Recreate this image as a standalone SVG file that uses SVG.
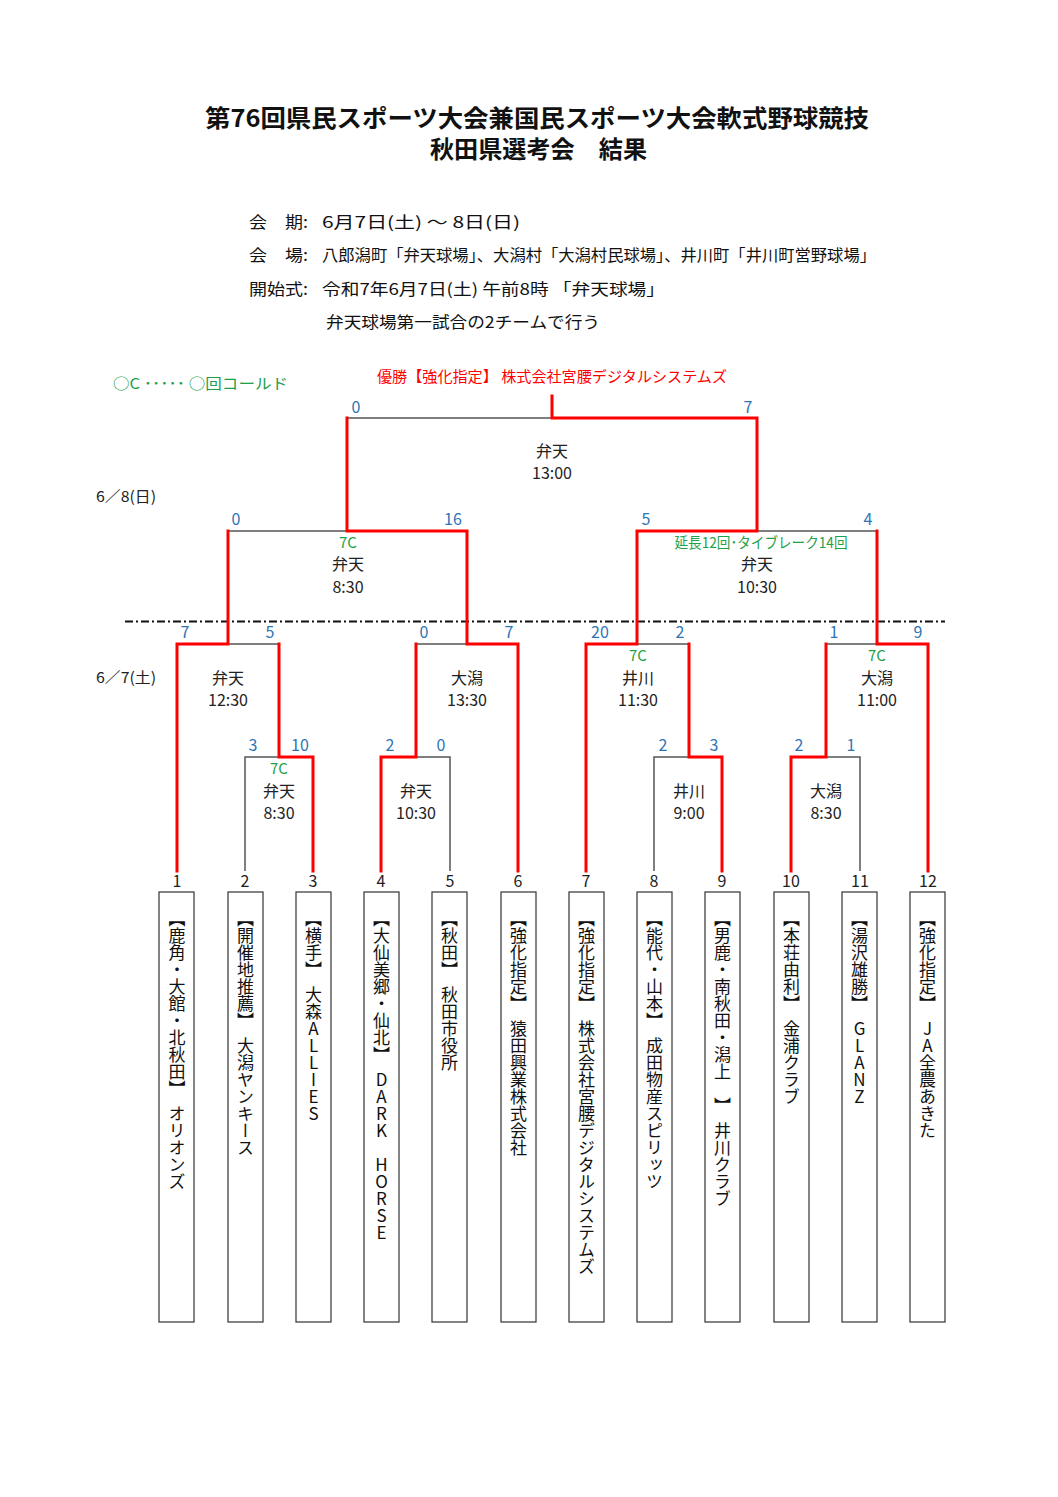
<svg xmlns="http://www.w3.org/2000/svg" width="1058" height="1497" viewBox="0 0 1058 1497">
<style>
text { font-family: "Noto Sans CJK JP", "Noto Sans", sans-serif; }
.title { font-size: 24px; font-weight: bold; fill: #111; }
.info { font-size: 16px; fill: #111; }
.sc { font-size: 16px; fill: #2E75B6; text-anchor: middle; }
.lb { font-size: 16px; fill: #222; text-anchor: middle; }
.gr { font-size: 15px; fill: #1FA04A; text-anchor: middle; }
.num { font-size: 16px; fill: #222; text-anchor: middle; }
.date { font-size: 15px; fill: #222; }
.team { font-size: 17px; fill: #111; writing-mode: vertical-rl; text-orientation: upright; }
.box { fill: #fff; stroke: #333; stroke-width: 1.2; }
.g { fill: none; stroke: #555; stroke-width: 1.5; }
.r { fill: none; stroke: #FF0000; stroke-width: 3; stroke-linejoin: miter; stroke-linecap: square; }
.dd { fill: none; stroke: #111; stroke-width: 2; stroke-dasharray: 8 3 2 3; }
</style>
<rect width="1058" height="1497" fill="#fff"/>

<g id="header">
<text class="title" x="205" y="127" textLength="664" lengthAdjust="spacingAndGlyphs">第76回県民スポーツ大会兼国民スポーツ大会軟式野球競技</text>
<text class="title" x="430" y="158" textLength="217" lengthAdjust="spacingAndGlyphs">秋田県選考会　結果</text>
<text class="info" x="249" y="228" textLength="59" lengthAdjust="spacingAndGlyphs">会　期:</text>
<text class="info" x="322" y="228" textLength="198" lengthAdjust="spacingAndGlyphs">6月7日(土) ～ 8日(日)</text>
<text class="info" x="249" y="261" textLength="59" lengthAdjust="spacingAndGlyphs">会　場:</text>
<text class="info" x="322" y="261" textLength="554" lengthAdjust="spacingAndGlyphs">八郎潟町「弁天球場」、大潟村「大潟村民球場」、井川町「井川町営野球場」</text>
<text class="info" x="249" y="295" textLength="59" lengthAdjust="spacingAndGlyphs">開始式:</text>
<text class="info" x="322" y="295" textLength="343" lengthAdjust="spacingAndGlyphs">令和7年6月7日(土) 午前8時 「弁天球場」</text>
<text class="info" x="326" y="328" textLength="274" lengthAdjust="spacingAndGlyphs">弁天球場第一試合の2チームで行う</text>
</g>

<g id="legend">
<text x="113" y="389" font-size="15" fill="#1FA04A" textLength="175" lengthAdjust="spacingAndGlyphs">○C ･････ ○回コールド</text>
<text x="377" y="382" font-size="15" fill="#FF0000" textLength="350" lengthAdjust="spacingAndGlyphs">優勝【強化指定】 株式会社宮腰デジタルシステムズ</text>
<text class="date" x="96" y="502" textLength="60" lengthAdjust="spacingAndGlyphs">6／8(日)</text>
<text class="date" x="96" y="683" textLength="60" lengthAdjust="spacingAndGlyphs">6／7(土)</text>
</g>

<g id="connectors">
<path class="dd" d="M125 621.5 H945"/>
<path class="g" d="M245 871 V757 H313 V871"/>
<path class="g" d="M177 871 V644 H279 V757"/>
<path class="g" d="M381 871 V757 H450 V871"/>
<path class="g" d="M416 757 V644 H518 V871"/>
<path class="g" d="M228 644 V531 H467 V644"/>
<path class="g" d="M654 871 V757 H722 V871"/>
<path class="g" d="M586 871 V644 H689 V757"/>
<path class="g" d="M791 871 V757 H860 V871"/>
<path class="g" d="M826 757 V644 H928 V871"/>
<path class="g" d="M637 644 V531 H877 V644"/>
<path class="g" d="M347 531 V418 H757 V531"/>
<path class="r" d="M313 871 V757 H279 V644"/>
<path class="r" d="M177 871 V644 H228 V531"/>
<path class="r" d="M381 871 V757 H416 V644"/>
<path class="r" d="M518 871 V644 H467 V531 H347 V418"/>
<path class="r" d="M722 871 V757 H689 V644"/>
<path class="r" d="M586 871 V644 H637 V531 H757 V418 H552 V396"/>
<path class="r" d="M791 871 V757 H826 V644"/>
<path class="r" d="M928 871 V644 H877 V531"/>
</g>

<g id="scores">
<text class="sc" x="356" y="413">0</text><text class="sc" x="748" y="413">7</text>
<text class="sc" x="236" y="525">0</text><text class="sc" x="453" y="525">16</text>
<text class="sc" x="646" y="525">5</text><text class="sc" x="868" y="525">4</text>
<text class="sc" x="185" y="638">7</text><text class="sc" x="270" y="638">5</text>
<text class="sc" x="424" y="638">0</text><text class="sc" x="509" y="638">7</text>
<text class="sc" x="600" y="638">20</text><text class="sc" x="680" y="638">2</text>
<text class="sc" x="834" y="638">1</text><text class="sc" x="918" y="638">9</text>
<text class="sc" x="253" y="751">3</text><text class="sc" x="300" y="751">10</text>
<text class="sc" x="390" y="751">2</text><text class="sc" x="441" y="751">0</text>
<text class="sc" x="663" y="751">2</text><text class="sc" x="714" y="751">3</text>
<text class="sc" x="799" y="751">2</text><text class="sc" x="851" y="751">1</text>
</g>

<g id="match-final"><text class="lb" x="552" y="457">弁天</text><text class="lb" x="552" y="479">13:00</text></g>
<g id="match-sf1"><text class="gr" x="348" y="548">7C</text><text class="lb" x="348" y="570">弁天</text><text class="lb" x="348" y="593">8:30</text></g>
<g id="match-sf2"><text class="gr" x="761" y="548" textLength="173" lengthAdjust="spacingAndGlyphs">延長12回･タイブレーク14回</text><text class="lb" x="757" y="570">弁天</text><text class="lb" x="757" y="593">10:30</text></g>
<g id="match-qf1"><text class="lb" x="228" y="684">弁天</text><text class="lb" x="228" y="706">12:30</text></g>
<g id="match-qf2"><text class="lb" x="467" y="684">大潟</text><text class="lb" x="467" y="706">13:30</text></g>
<g id="match-qf3"><text class="gr" x="638" y="661">7C</text><text class="lb" x="638" y="684">井川</text><text class="lb" x="638" y="706">11:30</text></g>
<g id="match-qf4"><text class="gr" x="877" y="661">7C</text><text class="lb" x="877" y="684">大潟</text><text class="lb" x="877" y="706">11:00</text></g>
<g id="match-r1a"><text class="gr" x="279" y="774">7C</text><text class="lb" x="279" y="797">弁天</text><text class="lb" x="279" y="819">8:30</text></g>
<g id="match-r1b"><text class="lb" x="416" y="797">弁天</text><text class="lb" x="416" y="819">10:30</text></g>
<g id="match-r1c"><text class="lb" x="689" y="797">井川</text><text class="lb" x="689" y="819">9:00</text></g>
<g id="match-r1d"><text class="lb" x="826" y="797">大潟</text><text class="lb" x="826" y="819">8:30</text></g>

<g id="team1"><text class="num" x="177" y="887">1</text><rect class="box" x="159" y="892" width="35" height="430"/><text class="team" x="177" y="910">【鹿角・大館・北秋田】　オリオンズ</text></g>
<g id="team2"><text class="num" x="245" y="887">2</text><rect class="box" x="228" y="892" width="35" height="430"/><text class="team" x="245.5" y="910">【開催地推薦】　大潟ヤンキース</text></g>
<g id="team3"><text class="num" x="313" y="887">3</text><rect class="box" x="296" y="892" width="35" height="430"/><text class="team" x="313.5" y="910">【横手】　大森ALLIES</text></g>
<g id="team4"><text class="num" x="381" y="887">4</text><rect class="box" x="364" y="892" width="35" height="430"/><text class="team" x="381.5" y="910">【大仙美郷・仙北】　DARK　HORSE</text></g>
<g id="team5"><text class="num" x="450" y="887">5</text><rect class="box" x="432" y="892" width="35" height="430"/><text class="team" x="449.5" y="910">【秋田】　秋田市役所</text></g>
<g id="team6"><text class="num" x="518" y="887">6</text><rect class="box" x="501" y="892" width="35" height="430"/><text class="team" x="518.5" y="910">【強化指定】　猿田興業株式会社</text></g>
<g id="team7"><text class="num" x="586" y="887">7</text><rect class="box" x="569" y="892" width="35" height="430"/><text class="team" x="586.5" y="910">【強化指定】　株式会社宮腰デジタルシステムズ</text></g>
<g id="team8"><text class="num" x="654" y="887">8</text><rect class="box" x="637" y="892" width="35" height="430"/><text class="team" x="654.5" y="910">【能代・山本】　成田物産スピリッツ</text></g>
<g id="team9"><text class="num" x="722" y="887">9</text><rect class="box" x="705" y="892" width="35" height="430"/><text class="team" x="722.5" y="910">【男鹿・南秋田・潟上　】　井川クラブ</text></g>
<g id="team10"><text class="num" x="791" y="887">10</text><rect class="box" x="774" y="892" width="35" height="430"/><text class="team" x="791.5" y="910">【本荘由利】　金浦クラブ</text></g>
<g id="team11"><text class="num" x="860" y="887">11</text><rect class="box" x="842" y="892" width="35" height="430"/><text class="team" x="859.5" y="910">【湯沢雄勝】　GLANZ</text></g>
<g id="team12"><text class="num" x="928" y="887">12</text><rect class="box" x="910" y="892" width="35" height="430"/><text class="team" x="927.5" y="910">【強化指定】　JA全農あきた</text></g>
</svg>
